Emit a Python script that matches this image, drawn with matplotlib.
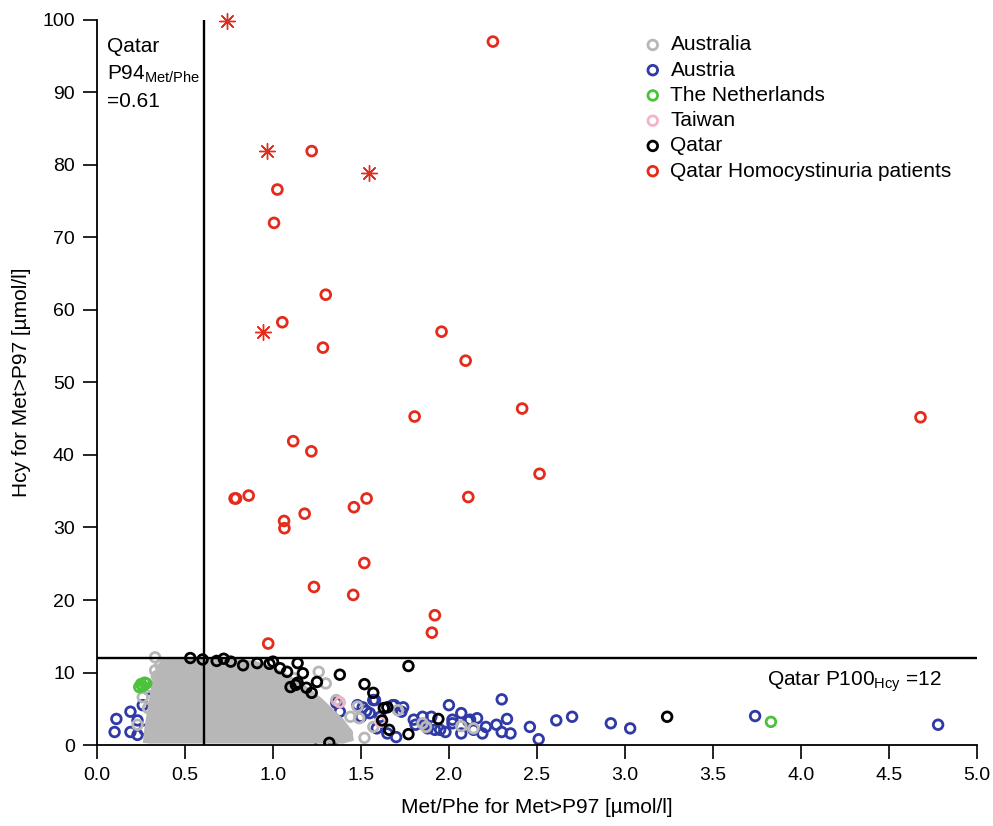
import matplotlib
matplotlib.use("Agg")
import matplotlib.pyplot as plt
import numpy as np

plt.rcParams['font.family'] = ['Liberation Sans', 'DejaVu Sans']

# Qatar homocystinuria patients (open circles)
red_x = [2.25, 1.22, 1.025, 1.006, 1.30, 1.053, 1.958, 1.284, 2.095, 2.416, 1.805, 4.68,
         1.115, 1.218, 2.515, 0.782, 0.79, 0.862, 1.532, 1.46, 2.11, 1.18, 1.063, 1.065,
         1.519, 1.233, 1.456, 1.92, 1.903, 0.973]
red_y = [97.0, 81.9, 76.6, 72.0, 62.1, 58.3, 57.0, 54.8, 53.0, 46.4, 45.3, 45.2,
         41.9, 40.5, 37.4, 34.0, 34.0, 34.4, 34.0, 32.8, 34.2, 31.9, 30.9, 29.9,
         25.1, 21.8, 20.7, 17.9, 15.5, 14.0]
# patients drawn as asterisks
star_x = [0.736, 0.966, 1.545, 0.945]
star_y = [99.9, 81.9, 78.9, 56.9]

# Australia: dense cloud outline + edge points
blob_x = [0.26, 0.27, 0.29, 0.31, 0.34, 0.38, 0.55, 0.75, 0.90, 1.00, 1.08, 1.15,
          1.22, 1.28, 1.34, 1.40, 1.45, 1.46, 1.40, 1.00, 0.50, 0.30]
blob_y = [0.3, 2.5, 5.5, 8.5, 11.0, 12.0, 12.0, 12.0, 11.6, 10.8, 9.8, 8.8,
          7.6, 6.4, 5.0, 3.6, 2.0, 0.6, 0.2, 0.2, 0.2, 0.2]
aus_x = [0.33, 0.36, 0.33, 0.26, 0.23, 0.29, 1.26, 1.36, 1.48, 1.44, 1.49, 1.38, 1.52,
         1.42, 1.57, 1.32, 1.71, 1.85, 2.07, 2.14, 1.87, 0.31, 0.34, 1.30, 1.12]
aus_y = [12.1, 11.0, 10.3, 6.6, 2.8, 5.1, 10.1, 6.2, 5.3, 3.9, 3.7, 2.5, 1.0,
         1.6, 2.5, 3.5, 4.8, 3.0, 2.6, 2.3, 2.5, 8.0, 9.5, 8.5, 9.2]

# Austria
aut_x = [0.11, 0.10, 0.19, 0.19, 0.23, 0.23, 0.26, 0.29, 0.27,
         1.36, 1.38, 1.51, 1.57, 1.55, 1.61, 1.59, 1.65, 1.28, 1.34, 1.27,
         1.53, 1.58, 1.68, 1.73, 1.80, 1.48, 1.50, 1.70, 1.88, 1.69, 1.74,
         1.85, 1.81, 1.86, 1.92, 1.98, 2.02, 2.07, 2.11, 2.14, 1.90, 2.00,
         2.02, 2.12, 2.19, 1.95, 2.30, 2.07, 2.16, 2.33, 2.27, 2.21, 2.30,
         2.35, 2.46, 2.61, 2.70, 2.92, 3.03, 2.51, 3.74, 4.78]
aut_y = [3.6, 1.8, 4.6, 1.8, 3.4, 1.4, 5.5, 7.7, 2.1,
         5.8, 4.6, 5.2, 6.2, 4.4, 3.9, 2.3, 1.6, 2.1, 0.7, 0.3,
         4.7, 6.2, 5.5, 4.6, 3.5, 5.5, 3.9, 1.1, 2.3, 5.5, 5.2,
         3.9, 2.8, 2.8, 2.1, 1.8, 3.0, 1.6, 3.3, 2.1, 3.9, 5.5,
         3.5, 3.5, 1.6, 2.1, 6.3, 4.4, 3.7, 3.6, 2.8, 2.5, 1.8,
         1.6, 2.5, 3.4, 3.9, 3.0, 2.3, 0.8, 4.0, 2.8]

# The Netherlands
nl_x = [0.24, 0.25, 0.27, 0.26, 0.28, 3.83]
nl_y = [8.0, 8.4, 8.6, 8.1, 8.5, 3.2]

# Taiwan
tw_x = [1.38, 1.61]
tw_y = [5.9, 3.2]

# Qatar
qat_x = [0.53, 0.68, 0.76, 0.83, 0.91, 1.00, 1.14, 1.77, 1.08, 1.17, 1.14, 1.25,
         1.38, 1.10, 1.22, 1.19, 1.13, 1.52, 1.57, 1.63, 1.62, 1.66, 1.77,
         1.94, 1.32, 1.65, 3.24, 0.60, 0.72, 0.98, 1.04]
qat_y = [12.0, 11.6, 11.5, 11.0, 11.3, 11.5, 11.3, 10.9, 10.1, 9.9, 8.6, 8.7,
         9.7, 8.0, 7.2, 7.9, 8.3, 8.4, 7.2, 5.1, 3.4, 2.1, 1.5,
         3.6, 0.3, 5.2, 3.9, 11.8, 11.9, 11.2, 10.6]
# partly hidden Qatar points inside the Australian cloud
qat_in_x = [0.45, 0.50, 0.58, 0.66, 0.70, 0.80, 0.86, 0.95, 1.02, 0.40, 0.55, 0.90]
qat_in_y = [10.5, 9.2, 10.8, 10.2, 9.0, 10.4, 9.6, 10.0, 9.4, 10.9, 11.2, 10.6]

met_phe_cut = 0.61
hcy_cut = 12

grey = '#b7b7b7'
blue = '#2f3aa6'
green = '#4cc23c'
pink = '#f5b4c6'
red = '#e52b1c'

fig = plt.figure(figsize=(9.93, 8.26), dpi=100)
ax = fig.add_axes([0.0977, 0.098, 0.886, 0.878])

ms = 48
lw = 2.0
ax.scatter(aut_x, aut_y, s=ms, facecolors='none', edgecolors=blue, linewidths=lw, zorder=2)
ax.scatter(qat_in_x, qat_in_y, s=16, facecolors='none', edgecolors='black', linewidths=1.3, zorder=2)
ax.fill(blob_x, blob_y, color=grey, lw=0, zorder=3)
ax.scatter(aus_x, aus_y, s=ms, facecolors='none', edgecolors=grey, linewidths=lw, zorder=3)
ax.scatter(nl_x, nl_y, s=ms, facecolors='none', edgecolors=green, linewidths=lw, zorder=4)
ax.scatter(tw_x, tw_y, s=ms, facecolors='none', edgecolors=pink, linewidths=lw, zorder=4)
ax.scatter(qat_x, qat_y, s=ms, facecolors='none', edgecolors='black', linewidths=lw, zorder=5)
ax.scatter(red_x, red_y, s=50, facecolors='none', edgecolors=red, linewidths=lw, zorder=6)
ax.scatter(star_x, star_y, s=130, marker=(8, 2, 0), color=red, linewidths=1.0, zorder=6,
           clip_on=False)

ax.axvline(met_phe_cut, color='black', lw=1.7, zorder=7)
ax.axhline(hcy_cut, color='black', lw=1.7, zorder=7)

ax.set_xlim(0, 5)
ax.set_ylim(0, 100)
ax.set_xticks(np.arange(0, 5.01, 0.5))
ax.set_xticklabels([f"{v:.1f}" for v in np.arange(0, 5.01, 0.5)])
ax.set_yticks(np.arange(0, 101, 10))
for s in ['top', 'right']:
    ax.spines[s].set_visible(False)
for s in ['left', 'bottom']:
    ax.spines[s].set_linewidth(1.3)
ax.tick_params(direction='out', length=10, width=1.2, labelsize=14, pad=6)

ax.set_xlabel('Met/Phe for Met>P97 [µmol/l]', fontsize=15, labelpad=10)
ax.set_ylabel('Hcy for Met>P97 [µmol/l]', fontsize=15, labelpad=8)

ax.text(0.055, 97.6, 'Qatar\nP94$_{\\mathregular{Met/Phe}}$\n=0.61', fontsize=15,
        va='top', ha='left', linespacing=1.45)
ax.text(4.8, 8.7, 'Qatar P100$_{\\mathregular{Hcy}}$ =12', fontsize=15, ha='right', va='center')

# legend
handles = [
    ax.scatter([], [], s=ms, facecolors='none', edgecolors=grey, linewidths=lw, label='Australia'),
    ax.scatter([], [], s=ms, facecolors='none', edgecolors=blue, linewidths=lw, label='Austria'),
    ax.scatter([], [], s=ms, facecolors='none', edgecolors=green, linewidths=lw, label='The Netherlands'),
    ax.scatter([], [], s=ms, facecolors='none', edgecolors=pink, linewidths=lw, label='Taiwan'),
    ax.scatter([], [], s=ms, facecolors='none', edgecolors='black', linewidths=lw, label='Qatar'),
    ax.scatter([], [], s=ms, facecolors='none', edgecolors=red, linewidths=lw, label='Qatar Homocystinuria patients'),
]
ax.legend(handles=handles, loc='upper left', bbox_to_anchor=(0.608, 0.99), frameon=False,
          fontsize=15, handletextpad=0.25, labelspacing=0.3, borderaxespad=0, handlelength=1.2)

fig.savefig('out.png', dpi=100)
